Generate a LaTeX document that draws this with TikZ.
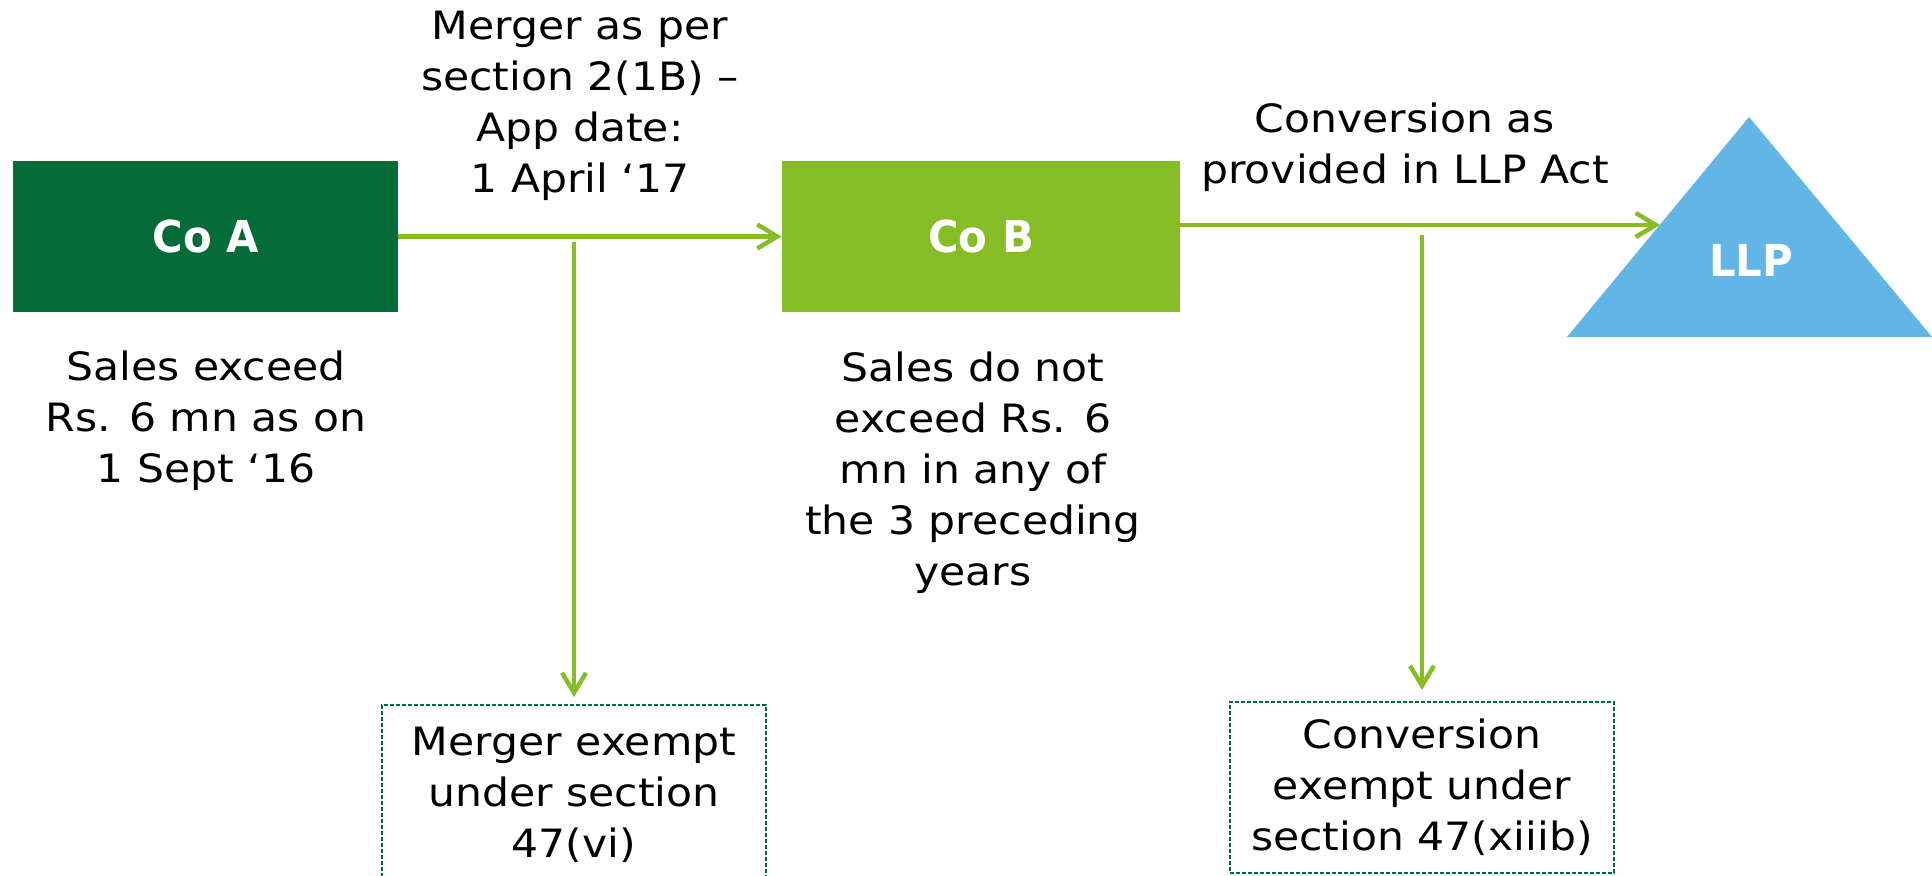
\documentclass[tikz,border=0pt]{standalone}
\usepackage{fontspec}
\setmainfont{DejaVu Sans}[FakeStretch=1.09]
\newfontfamily\cofont{DejaVu Sans}[FakeStretch=0.95]
\usetikzlibrary{arrows.meta}
\definecolor{dkgreen}{HTML}{046A38}
\definecolor{ltgreen}{HTML}{86BC25}
\definecolor{llpblue}{HTML}{62B5E5}
\begin{document}
\begin{tikzpicture}[x=0.5pt,y=-0.5pt,
  txt/.style={inner sep=0pt, align=center, font=\fontsize{19.5pt}{25.5pt}\selectfont, text=black},
  cobox/.style={inner sep=0pt, font=\cofont\fontsize{22pt}{26pt}\selectfont\bfseries, text=white},
  conn/.style={draw=ltgreen, line width=2.2pt, -{Straight Barb[length=10pt,width=12pt]}},
  exbox/.style={draw=dkgreen, line width=1pt, dash pattern=on 2pt off 1pt, inner sep=0pt, align=center,
    minimum width=192pt, font=\fontsize{19.5pt}{25.5pt}\selectfont, text=black, anchor=north}]
\useasboundingbox (0,0) rectangle (1932,875);
\clip (0,0) rectangle (1932,875);

% company boxes
\node[cobox, fill=dkgreen, minimum width=192.5pt, minimum height=75.5pt] (coA) at (205.5,236.5) {Co A};
\node[cobox, fill=ltgreen, minimum width=199pt, minimum height=75.5pt] (coB) at (981,236.5) {Co B};

% LLP triangle
\path[fill=llpblue] (1749,117) -- (1567,337) -- (1932,337) -- cycle;
\node[cobox] (llp) at (1751,260) {LLP};

% exemption boxes
\node[exbox, minimum height=90pt] (ex1) at (574,704) {Merger exempt\\under section\\47(vi)};
\node[exbox, minimum height=85.5pt] (ex2) at (1422,701) {Conversion\\exempt under\\section 47(xiiib)};

% labels
\node[txt] (lmerge) at (580,106) {Merger as per\\section 2(1B) –\\App date:\\1 April ‘17};
\node[txt] (lsalesA) at (206,421) {Sales exceed\\Rs. 6 mn as on\\1 Sept ‘16};
\node[txt] (lsalesB) at (973,473) {Sales do not\\exceed Rs. 6\\mn in any of\\the 3 preceding\\years};
\node[txt] (lconv) at (1405,147) {Conversion as\\provided in LLP Act};

% connectors
\draw[conn] (coA.east) -- (coB.west);
\coordinate (tril) at (1660,225);
\draw[conn] (coB.east |- tril) -- (tril);
\coordinate (v1) at (574,242);
\draw[conn, shorten >=3.5pt] (v1) -- (ex1.north);
\coordinate (v2) at (1422,235);
\draw[conn, shorten >=5.5pt] (v2) -- (ex2.north);
\end{tikzpicture}
\end{document}
